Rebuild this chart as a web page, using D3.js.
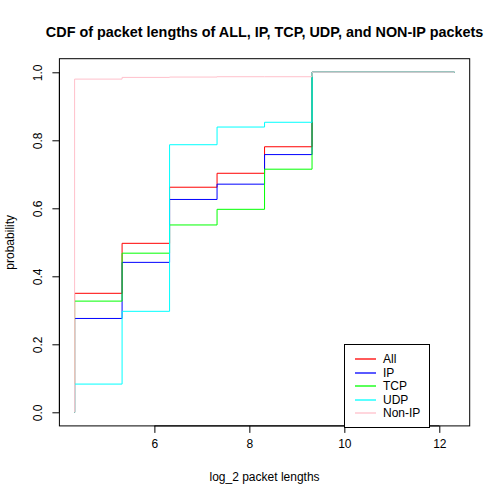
<!DOCTYPE html>
<html><head><meta charset="utf-8">
<script src="https://cdn.jsdelivr.net/npm/d3@7/dist/d3.min.js"></script>
<style>body{margin:0;background:#fff}svg{display:block;font-family:"Liberation Sans",Arial,Helvetica,sans-serif}</style>
</head><body>
<svg id="c" width="500" height="499"></svg>
<script>
const xVals = [4.32, 4.32, 5.32, 6.32, 7.32, 8.32, 9.32, 12.32];
const allVals   = [0, 0.350, 0.497, 0.662, 0.703, 0.781, 1.0, 1.0];
const ipVals    = [0, 0.276, 0.441, 0.626, 0.671, 0.758, 1.0, 1.0];
const tcpVals   = [0, 0.327, 0.468, 0.551, 0.597, 0.715, 1.0, 1.0];
const udpVals   = [0, 0.083, 0.297, 0.787, 0.839, 0.853, 1.0, 1.0];
const nonipVals = [0, 0.980, 0.985, 0.986, 0.987, 0.987, 1.0, 1.0];
const seriesNames = ["All", "IP", "TCP", "UDP", "Non-IP"];
const seriesColors = ["#ff0000", "#0000ff", "#00ff00", "#00ffff", "#ffc0cb"];
const xTicks = [6, 8, 10, 12];
const yTicks = [0, 0.2, 0.4, 0.6, 0.8, 1.0];

const series = [allVals, ipVals, tcpVals, udpVals, nonipVals];
const svg = d3.select("#c");
const L = 59.4, R = 469.7, T = 58.7, B = 425.9;
const x = d3.scaleLinear().domain([4.0, 12.64]).range([L, R]);
const y = d3.scaleLinear().domain([-0.04, 1.04]).range([B, T]);

const line = d3.line().x(d => x(d[0])).y(d => y(d[1])).curve(d3.curveStepAfter);
series.forEach((vals, i) => {
  svg.append("path")
    .datum(xVals.map((xv, j) => [xv, vals[j]]))
    .attr("d", line).attr("fill", "none")
    .attr("stroke", seriesColors[i]).attr("stroke-width", 1);
});

// frame
svg.append("rect").attr("x", L).attr("y", T).attr("width", R - L).attr("height", B - T)
  .attr("fill", "none").attr("stroke", "#000").attr("stroke-width", 1);

// x axis
const xa = svg.append("g").attr("transform", `translate(0,${B})`)
  .call(d3.axisBottom(x).tickValues(xTicks).tickSize(7).tickPadding(7).tickFormat(d3.format("d")));
xa.select(".domain").attr("d", `M${x(6)},0H${x(12)}`);
xa.selectAll("text").attr("font-size", 12).attr("font-family", "Liberation Sans, Arial, sans-serif").attr("fill", "#000");

// y axis
const ya = svg.append("g").attr("transform", `translate(${L},0)`)
  .call(d3.axisLeft(y).tickValues(yTicks).tickSize(7).tickFormat(d3.format(".1f")));
ya.select(".domain").attr("d", `M0,${y(0)}V${y(1)}`);
ya.selectAll(".tick text")
  .attr("x", 0).attr("dy", null)
  .attr("text-anchor", "middle")
  .attr("transform", "translate(-21,0) rotate(-90)")
  .attr("dominant-baseline", "central")
  .attr("font-size", 12).attr("font-family", "Liberation Sans, Arial, sans-serif").attr("fill", "#000");

// titles
svg.append("text").attr("x", (L + R) / 2).attr("y", 37).attr("text-anchor", "middle")
  .attr("font-size", 14.4).attr("font-weight", "bold").text("CDF of packet lengths of ALL, IP, TCP, UDP, and NON-IP packets");
svg.append("text").attr("x", (L + R) / 2).attr("y", 481).attr("text-anchor", "middle")
  .attr("font-size", 12).text("log_2 packet lengths");
svg.append("text").attr("transform", `translate(14,${(T + B) / 2}) rotate(-90)`).attr("text-anchor", "middle")
  .attr("font-size", 12).text("probability");

// legend
const lg = svg.append("g");
lg.append("rect").attr("x", 344.5).attr("y", 344.5).attr("width", 85).attr("height", 83)
  .attr("fill", "#fff").attr("stroke", "#000").attr("stroke-width", 1);
seriesNames.forEach((n, i) => {
  const yy = Math.round(359 + i * 13.5);
  lg.append("line").attr("x1", 355).attr("x2", 376).attr("y1", yy).attr("y2", yy)
    .attr("stroke", seriesColors[i]).attr("stroke-width", 1.3);
  lg.append("text").attr("x", 383).attr("y", yy).attr("dominant-baseline", "central")
    .attr("font-size", 12).text(n);
});
</script>
</body></html>
